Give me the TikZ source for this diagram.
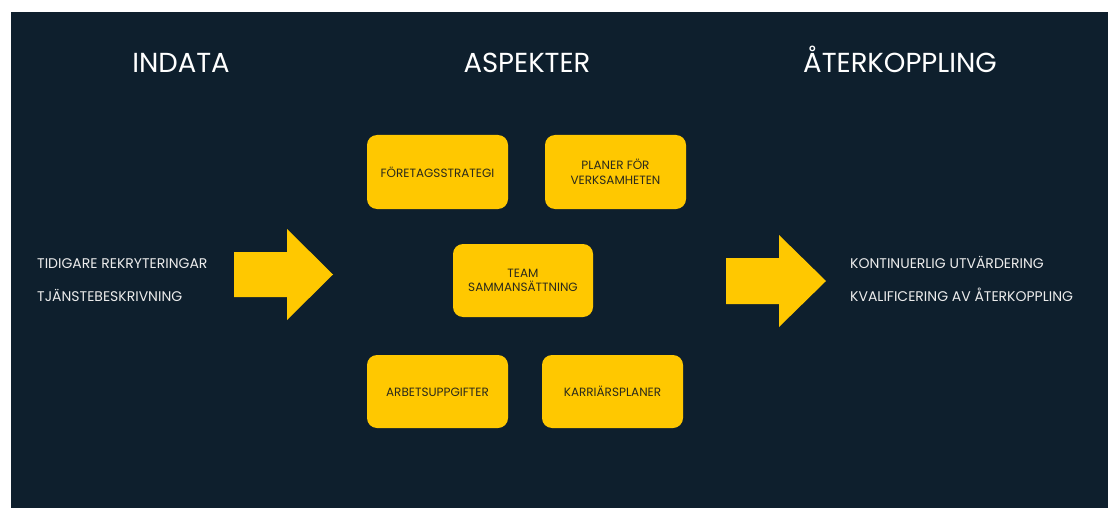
\documentclass[tikz,border=0pt]{standalone}
\usepackage{fontspec}
\setmainfont{Poppins}
\definecolor{navy}{HTML}{0E1F2D}
\definecolor{gold}{HTML}{FFC800}
\definecolor{ink}{HTML}{2B2A1C}
\definecolor{paper}{HTML}{ECECEC}
\begin{document}
\begin{tikzpicture}[x=1pt,y=-1pt,
  heading/.style={text=white,font=\fontsize{27.5}{32}\selectfont,anchor=base,inner sep=0pt},
  item/.style={text=paper,font=\fontsize{14}{16}\selectfont,anchor=base west,inner sep=0pt},
  aspect/.style={fill=gold,rounded corners=10pt,text=ink,align=center,
    font=\fontsize{12}{14.5}\selectfont,inner sep=0pt},
  flow/.style={fill=gold}]
  % canvas and dark panel
  \useasboundingbox (0,0) rectangle (1108,508);
  \fill[white] (0,0) rectangle (1108,508);
  \fill[navy] (11,12) rectangle (1108,508);

  % column headings
  \node[heading] (hin)  at (181,72.5) {INDATA};
  \node[heading] (hasp) at (527,72.5) {ASPEKTER};
  \node[heading] (hout) at (900,72.5) {ÅTERKOPPLING};

  % inputs
  \node[item] (in1) at (37,268) {TIDIGARE REKRYTERINGAR};
  \node[item] (in2) at (37,301) {TJÄNSTEBESKRIVNING};

  % aspects
  \node[aspect,minimum width=141pt,minimum height=74pt] (a1) at (437.5,172) {FÖRETAGSSTRATEGI};
  \node[aspect,minimum width=141pt,minimum height=74pt] (a2) at (615.5,172) {PLANER FÖR\\VERKSAMHETEN};
  \node[aspect,minimum width=140pt,minimum height=73pt] (a3) at (523,280.5) {TEAM\\SAMMANSÄTTNING};
  \node[aspect,minimum width=141pt,minimum height=73pt] (a4) at (437.5,391.5) {\vphantom{Ä}ARBETSUPPGIFTER};
  \node[aspect,minimum width=141pt,minimum height=73pt] (a5) at (612.5,391.5) {KARRIÄRSPLANER};

  % feedback
  \node[item] (out1) at (850,268) {KONTINUERLIG UTVÄRDERING};
  \node[item] (out2) at (850,301) {KVALIFICERING AV ÅTERKOPPLING};

  % block arrows
  \fill[flow] (234,252) -- (287,252) -- (287,229) -- (333,274.5) -- (287,320) -- (287,297) -- (234,297) -- cycle;
  \fill[flow] (726,258) -- (779,258) -- (779,235) -- (826,281) -- (779,327) -- (779,304) -- (726,304) -- cycle;
\end{tikzpicture}
\end{document}
